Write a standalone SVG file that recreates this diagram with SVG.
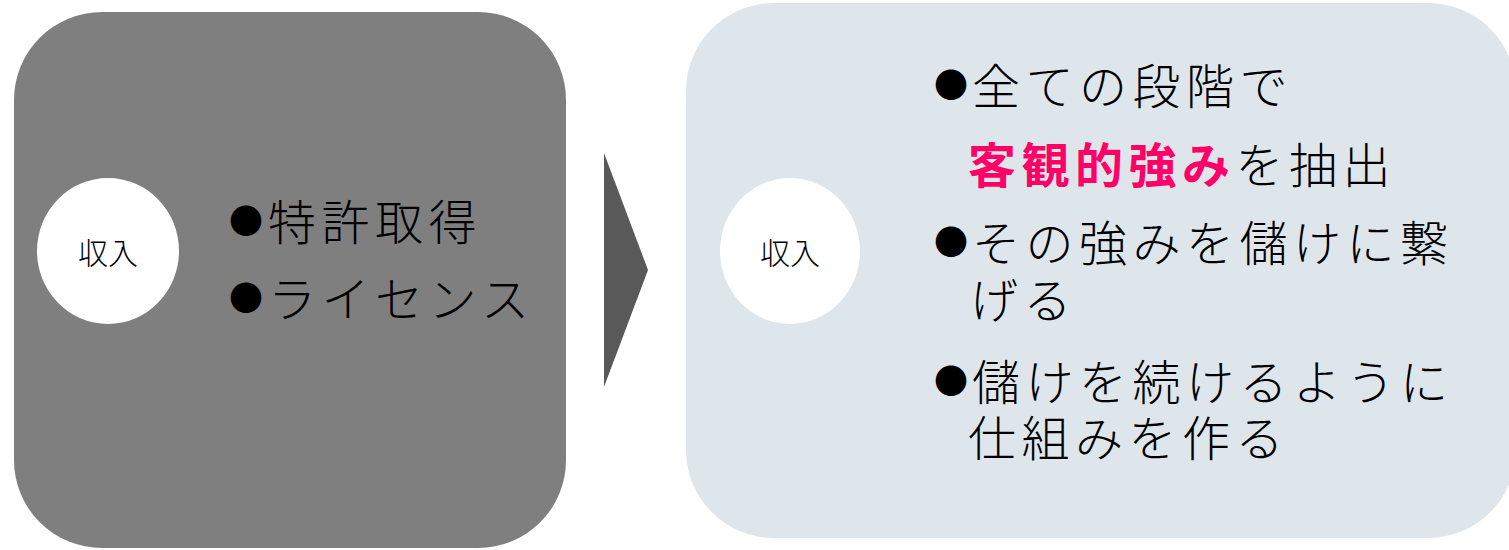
<svg xmlns="http://www.w3.org/2000/svg" width="1509" height="550" viewBox="0 0 1509 550">
<style>
.t{font-family:"Noto Sans CJK JP","Noto Sans CJK SC",sans-serif;font-weight:300;fill:#000;}
.big{font-size:48px;letter-spacing:5.5px;}
.dot{font-family:"Noto Sans CJK JP","Noto Sans CJK SC",sans-serif;font-size:34px;fill:#000;}
.lbl{font-size:30px;text-anchor:middle;dominant-baseline:central;}
.pink{fill:#ff0066;font-weight:700;}
</style>
<rect width="1509" height="550" fill="#ffffff"/>
<g id="node-left">
<rect x="14" y="12" width="552" height="536" rx="88" ry="88" fill="#7f7f7f"/>
<ellipse cx="108" cy="251" rx="71" ry="73" fill="#ffffff"/>
<text class="t lbl" x="108" y="251">収入</text>
<text class="dot" x="229" y="234">●</text>
<text class="t big" x="268" y="240">特許取得</text>
<text class="dot" x="229" y="311">●</text>
<text class="t big" x="268" y="317">ライセンス</text>
</g>
<g id="connectors">
<polygon points="604,153 648,270 604,387" fill="#595959"/>
</g>
<g id="node-right">
<rect x="686" y="3" width="830" height="535" rx="88" ry="88" fill="#dee6ec"/>
<ellipse cx="790" cy="251" rx="70" ry="73" fill="#ffffff"/>
<text class="t lbl" x="790" y="251">収入</text>
<text class="dot" x="934" y="98">●</text>
<text class="t big" x="972" y="104">全ての段階で</text>
<text class="t big" x="968" y="183"><tspan class="pink">客観的強み</tspan>を抽出</text>
<text class="dot" x="934" y="255">●</text>
<text class="t big" x="972" y="261">その強みを儲けに繋</text>
<text class="t big" x="970" y="318">げる</text>
<text class="dot" x="934" y="394">●</text>
<text class="t big" x="972" y="400">儲けを続けるように</text>
<text class="t big" x="968" y="456">仕組みを作る</text>
</g>
</svg>
